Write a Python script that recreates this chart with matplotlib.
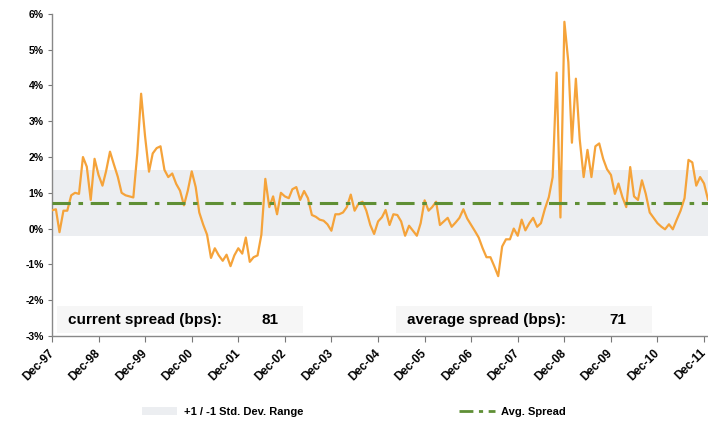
import matplotlib
import matplotlib.pyplot as plt
import matplotlib.dates as mdates
import pandas as pd
from matplotlib.patches import Patch, Rectangle
from matplotlib.lines import Line2D
from matplotlib.ticker import FuncFormatter, MultipleLocator

matplotlib.use("Agg")

plt.rcParams["font.family"] = ["Liberation Sans", "DejaVu Sans"]
plt.rcParams["font.weight"] = "bold"

# month-end spread differential, in %, Dec-97 .. Jan-12
spread_9798 = [0.51, 0.54, -0.1, 0.5, 0.5, 0.93, 1.0, 0.97, 2.0, 1.73, 0.8, 1.95, 1.5]
spread_99 = [1.2, 1.6, 2.15, 1.8, 1.45, 1.0, 0.93, 0.9, 0.87, 2.1, 3.77, 2.58]
spread_00 = [1.59, 2.1, 2.25, 2.3, 1.64, 1.44, 1.54, 1.25, 1.06, 0.65, 1.06, 1.6]
spread_01 = [1.16, 0.45, 0.11, -0.17, -0.82, -0.55, -0.75, -0.9, -0.73, -1.05, -0.75, -0.55]
spread_02 = [-0.7, -0.25, -0.93, -0.8, -0.75, -0.17, 1.39, 0.6, 0.9, 0.4, 1.0, 0.9]
spread_03 = [0.85, 1.1, 1.16, 0.8, 1.05, 0.85, 0.38, 0.33, 0.25, 0.22, 0.12, -0.06]
spread_04 = [0.4, 0.4, 0.45, 0.6, 0.95, 0.5, 0.7, 0.75, 0.5, 0.1, -0.15, 0.2]
spread_05 = [0.32, 0.52, 0.1, 0.4, 0.38, 0.2, -0.2, 0.08, -0.06, -0.2, 0.15, 0.79]
spread_06 = [0.5, 0.6, 0.75, 0.1, 0.2, 0.3, 0.05, 0.17, 0.3, 0.54, 0.28, 0.1]
spread_07 = [-0.08, -0.25, -0.55, -0.8, -0.8, -1.05, -1.33, -0.5, -0.3, -0.3, 0.0, -0.2]
spread_08 = [0.25, -0.05, 0.15, 0.3, 0.05, 0.15, 0.55, 0.88, 1.44, 4.36, 0.31, 5.78]
spread_09 = [4.65, 2.4, 4.19, 2.5, 1.44, 2.2, 1.44, 2.3, 2.38, 1.95, 1.66, 1.5]
spread_10 = [0.97, 1.26, 0.88, 0.6, 1.72, 0.9, 0.8, 1.35, 0.97, 0.45, 0.3, 0.15]
spread_11 = [0.05, -0.02, 0.12, -0.02, 0.25, 0.5, 0.85, 1.92, 1.85, 1.2, 1.44, 1.26]
spread_12 = [0.81]

avg_spread = 0.71
std_dev = 0.93
current_bps = 81
average_bps = 71

spread = (spread_9798 + spread_99 + spread_00 + spread_01 + spread_02 + spread_03
          + spread_04 + spread_05 + spread_06 + spread_07 + spread_08 + spread_09
          + spread_10 + spread_11 + spread_12)
dates = pd.date_range("1997-12-31", periods=len(spread), freq="ME")
tick_dates = dates[::12]

band_color = "#eceef1"
avg_color = "#5f8f35"

fig = plt.figure(figsize=(7.08, 4.22), dpi=100)
ax = fig.add_axes([0.0734, 0.204, 0.9266, 0.763])

ax.fill_between(dates, avg_spread - std_dev, avg_spread + std_dev,
                color=band_color, lw=0, zorder=1)
ax.plot(dates, spread, color="#f5a33a", lw=1.6, zorder=3)
ax.axhline(avg_spread, color=avg_color, lw=2.2, dashes=(6, 2.5, 1.5, 2.5), zorder=4)

ax.set_xlim(dates[0], dates[-1])
ax.set_ylim(-3, 6)
ax.yaxis.set_major_locator(MultipleLocator(1))
ax.yaxis.set_major_formatter(FuncFormatter(lambda v, p: f"{v:.0f}%"))
ax.set_xticks(tick_dates)
ax.xaxis.set_major_formatter(mdates.DateFormatter("%b-%y"))
for lbl in ax.get_xticklabels():
    lbl.set_rotation(45)
    lbl.set_ha("right")
    lbl.set_va("center")
    lbl.set_rotation_mode("anchor")

ax.tick_params(axis="y", labelsize=7.5, length=3, color="#777777", pad=3)
ax.tick_params(axis="x", labelsize=8.5, length=4, color="#777777", pad=7)
for side in ["top", "right"]:
    ax.spines[side].set_visible(False)
for side in ["left", "bottom"]:
    ax.spines[side].set_color("#888888")
    ax.spines[side].set_linewidth(1.0)

# faint boxes behind the two spread readouts
for x0, w in [(0.008, 0.375), (0.525, 0.39)]:
    ax.add_patch(Rectangle((x0, 0.008), w, 0.085, transform=ax.transAxes,
                           fc="#f6f6f6", ec="none", zorder=2))

text_kw = dict(transform=ax.transAxes, fontsize=11, fontweight="bold",
               va="center", ha="left", zorder=5)
ax.text(0.024, 0.05, "current spread (bps):", **text_kw)
ax.text(0.32, 0.05, f"{current_bps}", **text_kw)
ax.text(0.541, 0.05, "average spread (bps):", **text_kw)
ax.text(0.85, 0.05, f"{average_bps}", **text_kw)

handles = [
    Patch(facecolor=band_color, edgecolor="none", label="+1 / -1 Std. Dev. Range"),
    Line2D([], [], color=avg_color, lw=2, dashes=(5, 2, 1.5, 2), label="Avg. Spread"),
]
fig.legend(handles=handles, loc="lower center", bbox_to_anchor=(0.5, -0.012),
           ncol=2, frameon=False, fontsize=8, handlelength=3.2,
           columnspacing=14, handletextpad=0.6)

fig.savefig("out.png", dpi=100)
